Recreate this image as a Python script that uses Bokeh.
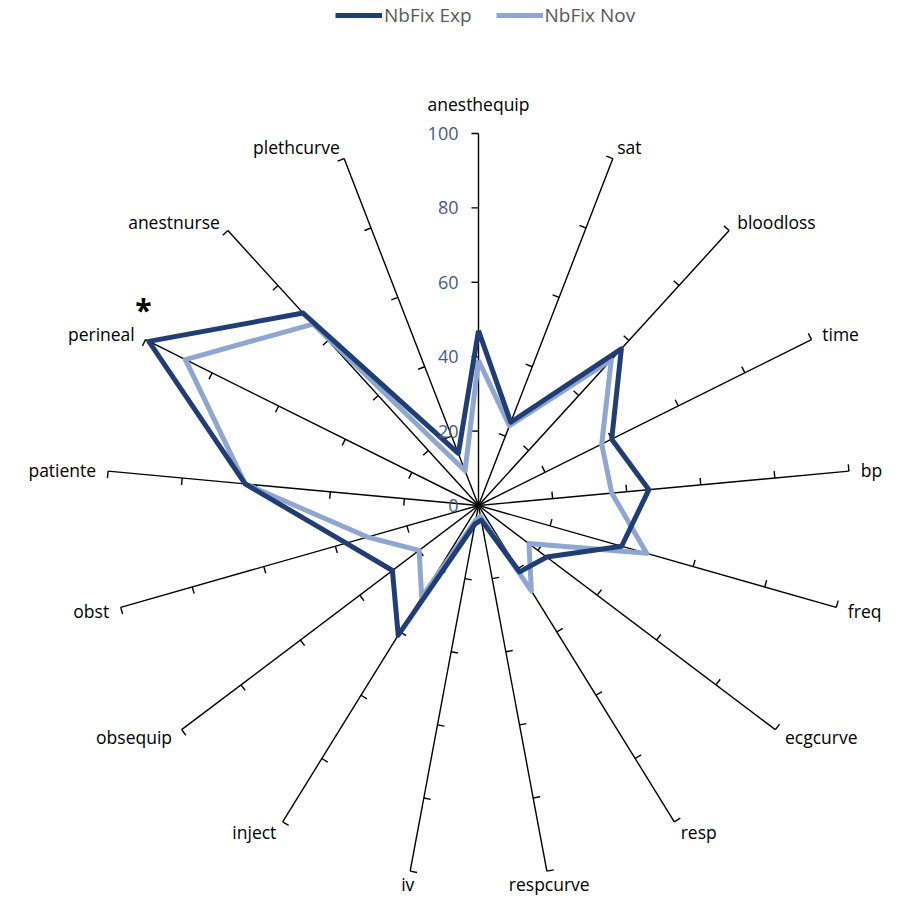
import numpy as np
from bokeh.plotting import figure
from bokeh.models import Range1d, Legend, LegendItem
from bokeh.embed import file_html
from bokeh.resources import INLINE
from bokeh.core.properties import value

# ---------------- data ----------------
categories = ["anesthequip", "sat", "bloodloss", "time", "bp", "freq", "ecgcurve",
              "resp", "respcurve", "iv", "inject", "obsequip", "obst", "patiente",
              "perineal", "anestnurse", "plethcurve"]
exp_values = [47, 24, 57, 40, 46, 40, 23, 21, 4, 5, 41, 29, 37, 63, 99, 70, 15]
nov_values = [39, 23, 53, 37, 36, 47, 17, 27, 3, 4, 29, 20, 31, 63, 88, 66, 10]
series_names = ["NbFix Exp", "NbFix Nov"]
tick_values = [0, 20, 40, 60, 80, 100]
significant = ["perineal"]

# ---------------- layout ----------------
W, H = 900, 897
PX = 3.72            # pixels per value unit
CX, CY = 478, 505    # centre of the radar, in frame pixels from left / top
RMAX = 100

DARK = "#203E74"
LIGHT = "#8FA6D0"
FONT = "Open Sans"

p = figure(width=W, height=H, output_backend="svg", toolbar_location=None,
           x_range=Range1d(-CX / PX, (W - CX) / PX),
           y_range=Range1d(-(H - CY) / PX, CY / PX),
           min_border=0, x_axis_type=None, y_axis_type=None)
p.grid.visible = False
p.outline_line_color = None
p.background_fill_color = "white"
p.border_fill_color = "white"

n = len(categories)
theta = np.pi / 2 - 2 * np.pi * np.arange(n) / n
cx, cy = np.cos(theta), np.sin(theta)

# spokes
p.segment(x0=np.zeros(n), y0=np.zeros(n), x1=RMAX * cx, y1=RMAX * cy,
          line_color="black", line_width=1.4)

# tick marks (counter-clockwise side of each spoke)
tl = 7 / PX
tx0, ty0, tx1, ty1 = [], [], [], []
for i in range(n):
    for t in tick_values[1:]:
        bx, by = t * cx[i], t * cy[i]
        tx0.append(bx); ty0.append(by)
        tx1.append(bx - tl * cy[i]); ty1.append(by + tl * cx[i])
p.segment(x0=tx0, y0=ty0, x1=tx1, y1=ty1, line_color="black", line_width=1.4)

# series
def closed(vals):
    v = np.array(vals, dtype=float)
    xs = list(v * cx) + [v[0] * cx[0]]
    ys = list(v * cy) + [v[0] * cy[0]]
    return xs, ys

nx, ny = closed(nov_values)
ex, ey = closed(exp_values)
r_nov = p.line(nx, ny, line_color=LIGHT, line_width=5, line_join="round")
r_exp = p.line(ex, ey, line_color=DARK, line_width=5, line_join="round")

# value labels along the vertical axis
p.text(x=[-20 / PX] * len(tick_values), y=tick_values, text=[str(t) for t in tick_values],
       text_align="right", text_baseline="middle", text_color="#435A8C",
       text_font=value(FONT), text_font_size="18px")

# category labels
groups = {"left": ([], [], []), "right": ([], [], []), "center": ([], [], [])}
for i, name in enumerate(categories):
    if abs(cx[i]) < 0.2:
        align = "center"
        gap = 30 if cy[i] > 0 else 13
    else:
        align = "left" if cx[i] > 0 else "right"
        gap = 12
    r = RMAX + gap / PX
    groups[align][0].append(r * cx[i])
    groups[align][1].append(r * cy[i])
    groups[align][2].append(name)
for align, (xs, ys, ts) in groups.items():
    if xs:
        p.text(x=xs, y=ys, text=ts, text_align=align, text_baseline="middle",
               text_color="black", text_font=value(FONT), text_font_size="17.5px")

# significance asterisk
for name in significant:
    i = categories.index(name)
    p.text(x=[RMAX * cx[i] - 2 / PX], y=[RMAX * cy[i] + 30 / PX], text=["*"],
           text_align="center", text_baseline="middle", text_color="black",
           text_font=value(FONT), text_font_size="30px", text_font_style="bold")

# legend
legend = Legend(items=[LegendItem(label=series_names[0], renderers=[r_exp]),
                       LegendItem(label=series_names[1], renderers=[r_nov])],
                orientation="horizontal", location=(335, H - 28),
                glyph_width=47, glyph_height=20, label_standoff=2, spacing=24,
                padding=0, margin=0, border_line_color=None,
                background_fill_alpha=0, label_text_color="#595959",
                label_text_font=FONT, label_text_font_size="19px",
                label_height=20)
p.add_layout(legend)

open("out.html", "w").write(file_html(p, INLINE))
